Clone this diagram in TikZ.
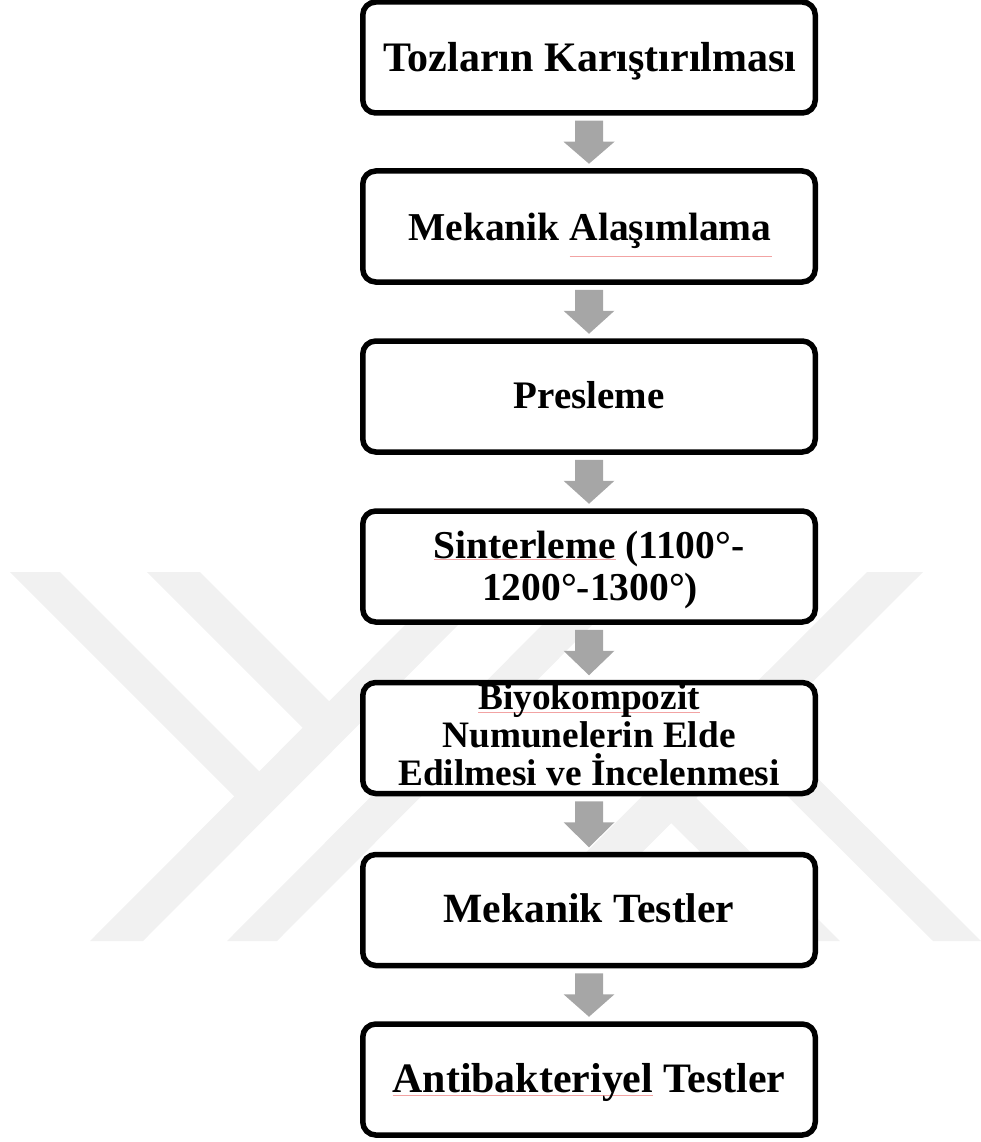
\documentclass[tikz,border=0pt]{standalone}
\usepackage{fontspec}
\setmainfont{Liberation Serif}
\usetikzlibrary{calc}
\definecolor{arrowgray}{HTML}{A6A6A6}
\definecolor{wmgray}{HTML}{F1F1F1}
\definecolor{squig}{HTML}{F2A3A3}
% spell-check style thin underline
\newsavebox\sqbox
\newcommand\sqw[2][0.12em]{\leavevmode\sbox\sqbox{#2}\rlap{\textcolor{squig}{\rule[-#1]{\wd\sqbox}{1pt}}}\usebox\sqbox}
\newcommand\flowarrow[2]{%
  \fill[arrowgray] ($(#1.south)+(-14,5)$) -- ($(#1.south)+(14,5)$) -- ($(#1.south)+(14,26)$)
    -- ($(#1.south)+(25.5,26)$) -- ($(#2.north)+(0,-4.5)$) -- ($(#1.south)+(-25.5,26)$)
    -- ($(#1.south)+(-14,26)$) -- cycle;}
\begin{document}
\begin{tikzpicture}[x=1pt,y=-1pt,
  stepbox/.style={draw=black, line width=5.5pt, fill=white, rounded corners=13pt,
    minimum width=452.5pt, minimum height=111pt, inner sep=0pt},
  boxtext/.style={anchor=base, inner sep=0pt},
  wm/.style={fill=wmgray}
]
\useasboundingbox (0,0) rectangle (981,1142);
% watermark
\fill[wm] (90,941) -- (143,941) -- (511,572) -- (458,572) -- cycle;
\fill[wm] (227,941) -- (277,941) -- (645,572) -- (595,572) -- cycle;
\fill[wm] (10,572) -- (60,572) -- (272,784) -- (247,809) -- cycle;
\fill[wm] (147,572) -- (200,572) -- (342,714) -- (315.5,740.5) -- cycle;
\fill[wm] (867,572) -- (923,572) -- (553,941) -- (497,941) -- cycle;
\fill[wm] (657.5,809.5) -- (682.5,784.5) -- (840,941) -- (790,941) -- cycle;
\fill[wm] (729,738) -- (753,714) -- (981,941) -- (933,941) -- cycle;
% boxes
\node[stepbox] (b1) at (589,57.5) {};
\node[stepbox] (b2) at (589,226.5) {};
\node[stepbox] (b3) at (589,396.5) {};
\node[stepbox] (b4) at (589,566.5) {};
\node[stepbox] (b5) at (589,738) {};
\node[stepbox] (b6) at (589,910) {};
\node[stepbox] (b7) at (589,1079.5) {};
% texts
\node[boxtext, font=\bfseries\fontsize{42pt}{48pt}\selectfont] (t1) at ($(b1.center)+(1,14)$) {Tozların Karıştırılması};
\node[boxtext, font=\bfseries\fontsize{39.5pt}{45pt}\selectfont] (t2) at ($(b2.center)+(1,13.5)$) {Mekanik \sqw[0.42em]{Alaşımlama}};
\node[boxtext, font=\bfseries\fontsize{39pt}{45pt}\selectfont] (t3) at ($(b3.center)+(0,11.5)$) {Presleme};
\node[boxtext, font=\bfseries\fontsize{39.5pt}{45pt}\selectfont] (t4a) at ($(b4.center)+(0,-8.5)$) {\sqw[0.06em]{Sinterleme} (1100°-};
\node[boxtext, font=\bfseries\fontsize{39.5pt}{45pt}\selectfont] (t4b) at ($(b4.center)+(1,33.5)$) {1200°-1300°)};
\node[boxtext, font=\bfseries\fontsize{37.3pt}{42pt}\selectfont] (t5a) at ($(b5.center)+(0,-29)$) {\sqw[0.1em]{Biyokompozit}};
\node[boxtext, font=\bfseries\fontsize{37.3pt}{42pt}\selectfont] (t5b) at ($(b5.center)+(0,9.5)$) {Numunelerin Elde};
\node[boxtext, font=\bfseries\fontsize{37.3pt}{42pt}\selectfont] (t5c) at ($(b5.center)+(0,47)$) {Edilmesi ve İncelenmesi};
\node[boxtext, font=\bfseries\fontsize{41.6pt}{47pt}\selectfont] (t6) at ($(b6.center)+(0,12)$) {Mekanik Testler};
\node[boxtext, font=\bfseries\fontsize{41.9pt}{47pt}\selectfont] (t7) at ($(b7.center)+(0,12.5)$) {\sqw[0.1em]{Antibakteriyel} Testler};
% arrows
\flowarrow{b1}{b2}
\flowarrow{b2}{b3}
\flowarrow{b3}{b4}
\flowarrow{b4}{b5}
\flowarrow{b5}{b6}
\flowarrow{b6}{b7}
\end{tikzpicture}
\end{document}
